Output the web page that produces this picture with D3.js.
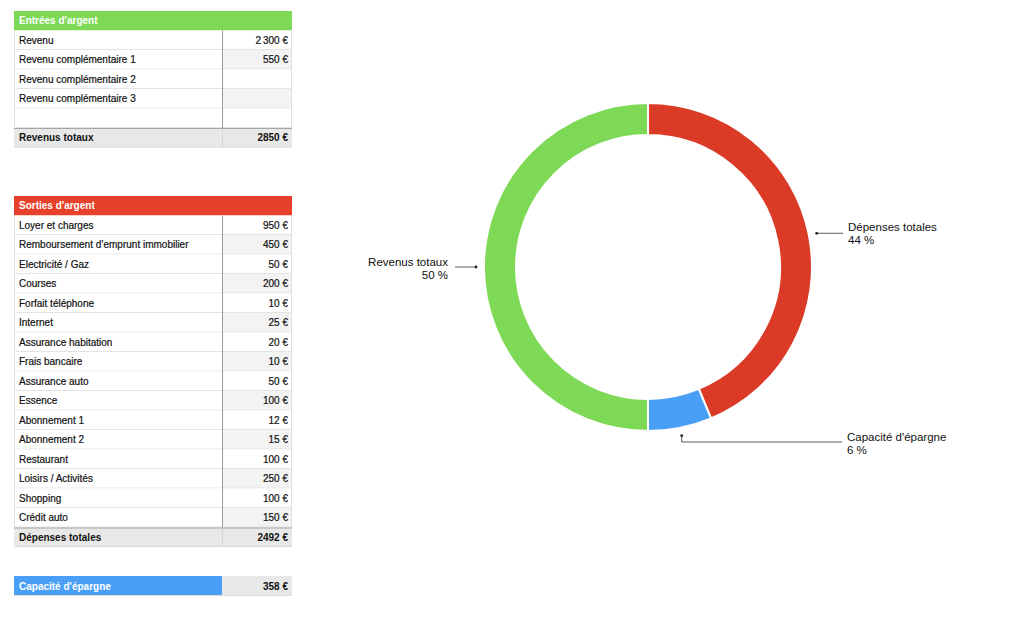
<!DOCTYPE html>
<html><head><meta charset="utf-8">
<script src="https://cdn.jsdelivr.net/npm/d3@7"></script>
<style>body{margin:0;background:#fff}svg{display:block;font-family:"Liberation Sans",Arial,Helvetica,sans-serif}</style>
</head><body><svg id="c" width="1024" height="626"></svg>
<script>
const incomeTitle = "Entrées d'argent";
const incomeLabels = ["Revenu","Revenu complémentaire 1","Revenu complémentaire 2","Revenu complémentaire 3",""];
const incomeValues = [2300, 550, null, null, null];
const incomeTotalLabel = "Revenus totaux";
const expenseTitle = "Sorties d'argent";
const expenseLabels = ["Loyer et charges","Remboursement d’emprunt immobilier","Electricité / Gaz","Courses","Forfait téléphone","Internet","Assurance habitation","Frais bancaire","Assurance auto","Essence","Abonnement 1","Abonnement 2","Restaurant","Loisirs / Activités","Shopping","Crédit auto"];
const expenseValues = [950,450,50,200,10,25,20,10,50,100,12,15,100,250,100,150];
const expenseTotalLabel = "Dépenses totales";
const savingsLabel = "Capacité d'épargne";
const donutLabels = ["Dépenses totales","Capacité d'épargne","Revenus totaux"];
const donutValues = [2492, 358, 2850];
const donutColors = ["#db3b26","#489ff5","#7ed957"];

const svg = d3.select("#c");
const fmt = v => v==null ? "" : (v>=1000 ? d3.format(",")(v).replace(",", "\u202F") : String(v)) + " €";
const xL = 14, xM = 222, xR = 292;

function txt(sel){ return sel.attr("font-size",10).attr("fill","#111").attr("stroke","#111").attr("stroke-width",0.2); }

function table(top, title, color, labels, values, totalLabel, totalValue){
  const rowH = 19.5;
  const g = svg.append("g");
  g.append("rect").attr("x",xL).attr("y",top).attr("width",xR-xL).attr("height",rowH).attr("fill",color);
  g.append("text").attr("x",xL+5).attr("y",top+rowH/2+3.5).attr("fill","#fff").attr("font-size",10).attr("font-weight","bold").text(title);
  const y = d3.scaleBand().domain(d3.range(labels.length)).range([top+rowH, top+rowH+rowH*labels.length]);
  const rows = g.selectAll("g.r").data(labels).join("g").attr("transform",(d,i)=>`translate(0,${y(i)})`);
  rows.append("rect").attr("x",xL).attr("width",xM-xL).attr("height",y.bandwidth()).attr("fill","#fff");
  rows.append("rect").attr("x",xM).attr("width",xR-xM).attr("height",y.bandwidth()).attr("fill",(d,i)=>i%2?"#f3f3f3":"#fff");
  rows.append("line").attr("x1",xL).attr("x2",xR).attr("y1",y.bandwidth()-0.5).attr("y2",y.bandwidth()-0.5).attr("stroke","#e4e4e4");
  txt(rows.append("text").attr("x",xL+5).attr("y",y.bandwidth()/2+3.5)).text(d=>d);
  txt(rows.append("text").attr("x",xR-4).attr("y",y.bandwidth()/2+3.5).attr("text-anchor","end")).text((d,i)=>fmt(values[i]));
  const bottom = top+rowH+rowH*labels.length;
  g.append("line").attr("x1",xL+0.5).attr("x2",xL+0.5).attr("y1",top+rowH).attr("y2",bottom+rowH).attr("stroke","#e0e0e0");
  g.append("line").attr("x1",xR-0.5).attr("x2",xR-0.5).attr("y1",top+rowH).attr("y2",bottom+rowH).attr("stroke","#e0e0e0");
  g.append("line").attr("x1",xM+0.5).attr("x2",xM+0.5).attr("y1",top+rowH).attr("y2",bottom).attr("stroke","#9a9a9a");
  g.append("rect").attr("x",xL).attr("y",bottom).attr("width",xR-xL).attr("height",rowH).attr("fill","#e8e8e8");
  g.append("line").attr("x1",xM+0.5).attr("x2",xM+0.5).attr("y1",bottom).attr("y2",bottom+rowH).attr("stroke","#d6d6d6");
  g.append("line").attr("x1",xL).attr("x2",xR).attr("y1",bottom+0.5).attr("y2",bottom+0.5).attr("stroke","#a5a5a5");
  g.append("line").attr("x1",xL).attr("x2",xR).attr("y1",bottom+rowH-0.5).attr("y2",bottom+rowH-0.5).attr("stroke","#dcdcdc");
  g.append("text").attr("x",xL+5).attr("y",bottom+rowH/2+3.5).attr("font-size",10).attr("font-weight","bold").attr("fill","#111").text(totalLabel);
  g.append("text").attr("x",xR-4).attr("y",bottom+rowH/2+3.5).attr("font-size",10).attr("font-weight","bold").attr("fill","#111").attr("text-anchor","end").text(totalValue+" €");
}
const incTotal = d3.sum(incomeValues), expTotal = d3.sum(expenseValues);
table(11, incomeTitle, "#7ed957", incomeLabels, incomeValues, incomeTotalLabel, incTotal);
table(196, expenseTitle, "#e8412b", expenseLabels, expenseValues, expenseTotalLabel, expTotal);

// savings row
const sTop = 576, sH = 20;
svg.append("rect").attr("x",xL).attr("y",sTop).attr("width",xM-xL).attr("height",sH).attr("fill","#489ff5");
svg.append("rect").attr("x",xM).attr("y",sTop).attr("width",xR-xM).attr("height",sH).attr("fill","#e8e8e8");
svg.append("line").attr("x1",xL).attr("x2",xR).attr("y1",sTop+sH-0.5).attr("y2",sTop+sH-0.5).attr("stroke","#dcdcdc");
svg.append("text").attr("x",xL+5).attr("y",sTop+sH/2+3.5).attr("font-size",10).attr("font-weight","bold").attr("fill","#fff").text(savingsLabel);
svg.append("text").attr("x",xR-4).attr("y",sTop+sH/2+3.5).attr("font-size",10).attr("font-weight","bold").attr("fill","#111").attr("text-anchor","end").text((incTotal-expTotal)+" €");

// donut
const cx = 648, cy = 267, rO = 164, rI = 132;
const pie = d3.pie().sort(null).value(d=>d);
const arcs = pie(donutValues);
const arc = d3.arc().innerRadius(rI).outerRadius(rO);
const dg = svg.append("g").attr("transform",`translate(${cx},${cy})`);
dg.selectAll("path").data(arcs).join("path").attr("d",arc).attr("fill",(d,i)=>donutColors[i]).attr("stroke","#fff").attr("stroke-width",2);
const total = d3.sum(donutValues);
const pct = v => Math.round(v/total*100) + " %";
const lg = svg.append("g").attr("font-size",11.5).attr("fill","#111");
arcs.forEach((a,i)=>{
  const m = (a.startAngle+a.endAngle)/2;
  const px = cx + 172*Math.sin(m), py = cy - 172*Math.cos(m);
  lg.append("circle").attr("cx",px).attr("cy",py).attr("r",1.4).attr("fill","#222");
  let pts, tx, ty, anchor;
  if (i===0){ pts=[[px,py],[843,py]]; tx=848; ty=py-2; anchor="start"; }
  else if (i===1){ pts=[[px,py],[px,442],[842,442]]; tx=847; ty=441; anchor="start"; }
  else { pts=[[px,py],[455,py]]; tx=448; ty=py-1; anchor="end"; }
  lg.append("path").attr("d",d3.line()(pts)).attr("fill","none").attr("stroke","#333").attr("stroke-width",0.8);
  const t = lg.append("text").attr("text-anchor",anchor).attr("x",tx).attr("y",ty);
  t.append("tspan").attr("x",tx).text(donutLabels[i]);
  t.append("tspan").attr("x",tx).attr("dy",13).text(pct(donutValues[i]));
});
</script></body></html>
